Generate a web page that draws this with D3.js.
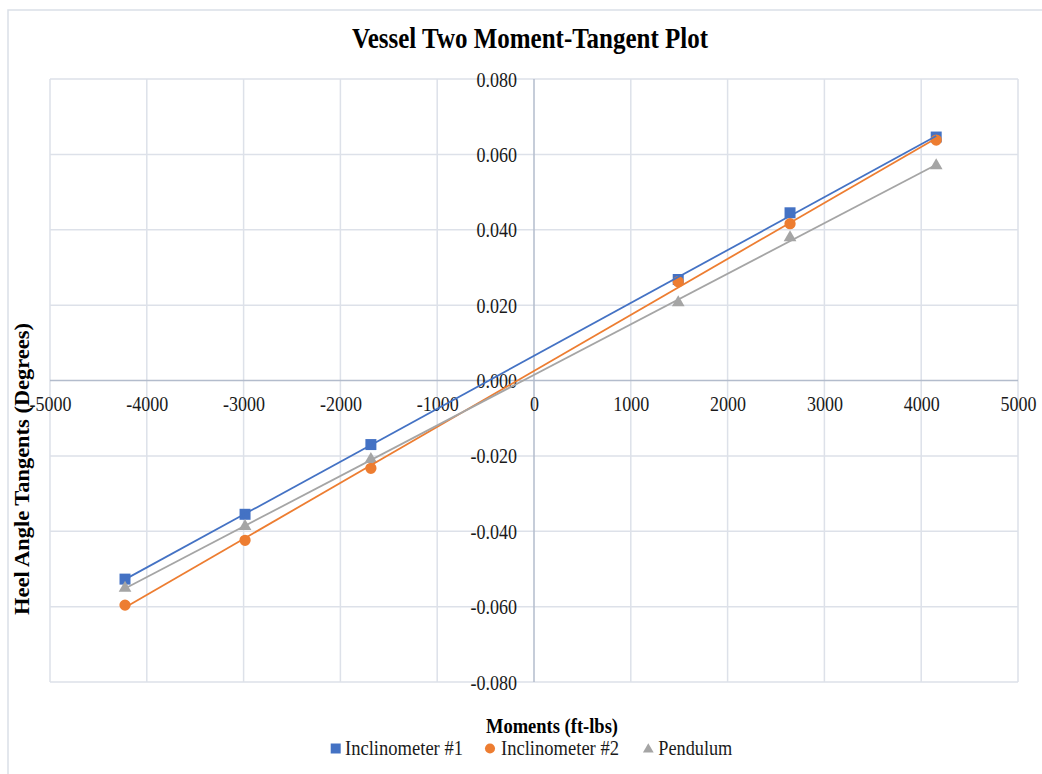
<!DOCTYPE html>
<html>
<head>
<meta charset="utf-8">
<script src="https://cdn.jsdelivr.net/npm/d3@7/dist/d3.min.js"></script>
<style>
  html, body { margin: 0; padding: 0; background: #fff; }
  svg { display: block; font-family: "Liberation Serif", "Times New Roman", serif; }
</style>
</head>
<body>
<svg id="chart" width="1042" height="774"></svg>
<script>
// ---- data ----
const moments = [-4225, -2985, -1685, 1490, 2645, 4155];
const inclinometer1 = [-0.0527, -0.0355, -0.0170, 0.0268, 0.0445, 0.0646];
const inclinometer2 = [-0.0596, -0.0424, -0.0233, 0.0262, 0.0416, 0.0638];
const pendulum = [-0.0551, -0.0387, -0.0209, 0.0207, 0.0379, 0.0570];
const seriesNames = ["Inclinometer #1", "Inclinometer #2", "Pendulum"];
const xTicks = [-5000, -4000, -3000, -2000, -1000, 0, 1000, 2000, 3000, 4000, 5000];
const yTicks = [-0.08, -0.06, -0.04, -0.02, 0, 0.02, 0.04, 0.06, 0.08];
const titleText = "Vessel Two Moment-Tangent Plot";
const xTitleText = "Moments (ft-lbs)";
const yTitleText = "Heel Angle Tangents (Degrees)";

// ---- setup ----
const FONT = "'Liberation Serif', 'Times New Roman', serif";
const colors = ["#4472C4", "#ED7D31", "#A5A5A5"];
const symbols = [d3.symbolSquare, d3.symbolCircle, d3.symbolTriangle];
const symbolSizes = [121, 100, 70];
const seriesValues = [inclinometer1, inclinometer2, pendulum];
const series = seriesNames.map((name, i) => ({
  name, color: colors[i], symbol: symbols[i], size: symbolSizes[i],
  points: moments.map((m, j) => ({x: m, y: seriesValues[i][j]}))
}));

const svg = d3.select("#chart");
const plot = {left: 50, right: 1018, top: 79, bottom: 682};
const x = d3.scaleLinear().domain([-5000, 5000]).range([plot.left, plot.right]);
const y = d3.scaleLinear().domain([-0.08, 0.08]).range([plot.bottom, plot.top]);

svg.append("rect").attr("width", 1042).attr("height", 774).attr("fill", "#fff");
// chart outer border
svg.append("rect").attr("x", 8).attr("y", 10).attr("width", 1045).attr("height", 780)
  .attr("fill", "none").attr("stroke", "#dadfe7").attr("stroke-width", 1.5);

const gridColor = "#dde1e9";
const axisColor = "#b3bccc";

// gridlines
svg.append("g").selectAll("line").data(xTicks).join("line")
  .attr("x1", d => x(d)).attr("x2", d => x(d))
  .attr("y1", plot.top).attr("y2", plot.bottom)
  .attr("stroke", d => d === 0 ? "none" : gridColor).attr("stroke-width", 1.5);
svg.append("g").selectAll("line").data(yTicks).join("line")
  .attr("x1", plot.left).attr("x2", plot.right)
  .attr("y1", d => y(d)).attr("y2", d => y(d))
  .attr("stroke", d => d === 0 ? "none" : gridColor).attr("stroke-width", 1.5);

// axes lines through zero
svg.append("line").attr("x1", x(0)).attr("x2", x(0)).attr("y1", plot.top).attr("y2", plot.bottom)
  .attr("stroke", axisColor).attr("stroke-width", 1.5);
svg.append("line").attr("x1", plot.left).attr("x2", plot.right).attr("y1", y(0)).attr("y2", y(0))
  .attr("stroke", axisColor).attr("stroke-width", 1.5);

// tick labels via d3 axes
const squeeze = 0.9;
const xAxis = d3.axisBottom(x).tickValues(xTicks).tickSize(0).tickFormat(d => String(d));
const gx = svg.append("g").attr("transform", `translate(0,${y(0)})`).call(xAxis);
gx.select(".domain").remove();
gx.selectAll("text")
  .attr("y", 31).attr("dy", 0)
  .attr("font-family", FONT).attr("font-size", 20).attr("fill", "#1a1a1a")
  .attr("transform", `scale(${squeeze},1)`);

const fmtY = d3.format(".3f");
const yAxis = d3.axisLeft(y).tickValues(yTicks).tickSize(0)
  .tickFormat(d => fmtY(d).replace("\u2212", "-"));
const gy = svg.append("g").attr("transform", `translate(${x(0)},0)`).call(yAxis);
gy.select(".domain").remove();
gy.selectAll("text")
  .attr("x", -17 / squeeze).attr("dy", 7)
  .attr("font-family", FONT).attr("font-size", 20).attr("fill", "#1a1a1a")
  .attr("transform", `scale(${squeeze},1)`);

// trendlines (least squares fit)
function fit(pts) {
  const mx = d3.mean(pts, p => p.x), my = d3.mean(pts, p => p.y);
  const b = d3.sum(pts, p => (p.x - mx) * (p.y - my)) / d3.sum(pts, p => (p.x - mx) ** 2);
  const a = my - b * mx;
  const [x0, x1] = d3.extent(pts, p => p.x);
  return [{x: x0, y: a + b * x0}, {x: x1, y: a + b * x1}];
}

// markers
series.forEach(s => {
  svg.append("g").selectAll("path").data(s.points).join("path")
    .attr("transform", d => `translate(${x(d.x)},${y(d.y)})`)
    .attr("d", d3.symbol().type(s.symbol).size(s.size))
    .attr("fill", s.color);
});
const line = d3.line().x(d => x(d.x)).y(d => y(d.y));
series.forEach(s => {
  svg.append("path").attr("d", line(fit(s.points)))
    .attr("fill", "none").attr("stroke", s.color).attr("stroke-width", 1.8);
});

// titles
svg.append("text").attr("x", 530).attr("y", 48).attr("text-anchor", "middle")
  .attr("font-family", FONT)
  .attr("font-size", 29).attr("font-weight", "bold").attr("fill", "#000")
  .attr("textLength", 356).attr("lengthAdjust", "spacingAndGlyphs")
  .text(titleText);
svg.append("text").attr("x", 552).attr("y", 733).attr("text-anchor", "middle")
  .attr("font-family", FONT)
  .attr("font-size", 21).attr("font-weight", "bold").attr("fill", "#000")
  .attr("textLength", 132).attr("lengthAdjust", "spacingAndGlyphs")
  .text(xTitleText);
svg.append("text").attr("transform", "translate(29,469) rotate(-90)").attr("text-anchor", "middle")
  .attr("font-family", FONT)
  .attr("font-size", 22).attr("font-weight", "bold").attr("fill", "#000")
  .attr("textLength", 292).attr("lengthAdjust", "spacingAndGlyphs")
  .text(yTitleText);

// legend
const legendItems = [
  {sx: 335.7, tx: 345, w: 118},
  {sx: 490, tx: 501, w: 118},
  {sx: 648.3, tx: 658.3, w: 74}
];
const lg = svg.append("g");
series.forEach((s, i) => {
  const it = legendItems[i];
  lg.append("path").attr("transform", `translate(${it.sx},${i === 2 ? 749.5 : 748.5})`)
    .attr("d", d3.symbol().type(s.symbol).size(i === 2 ? 50 : (i === 0 ? 100 : 80)))
    .attr("fill", s.color);
  lg.append("text").attr("x", it.tx).attr("y", 755)
    .attr("font-family", FONT)
    .attr("font-size", 21).attr("fill", "#1a1a1a")
    .attr("textLength", it.w).attr("lengthAdjust", "spacingAndGlyphs")
    .text(s.name);
});
</script>
</body>
</html>
